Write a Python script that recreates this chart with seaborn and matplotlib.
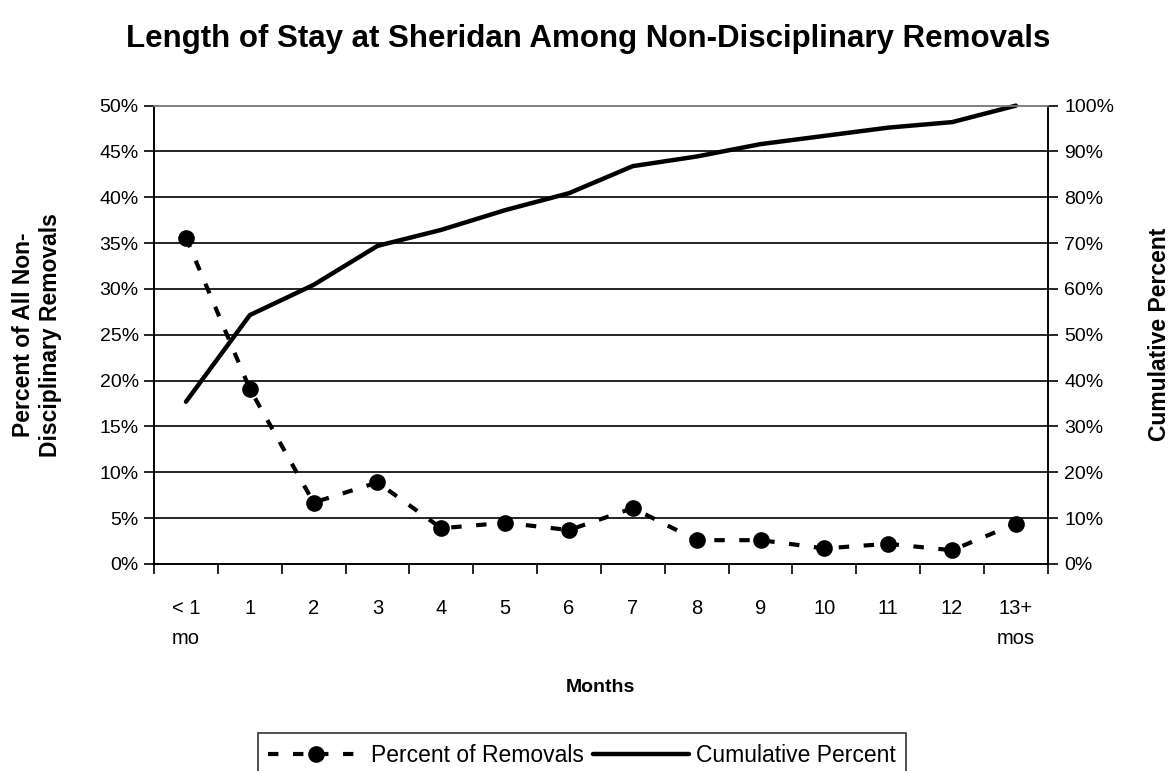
import matplotlib
matplotlib.use("Agg")
import matplotlib.pyplot as plt
import seaborn as sns
import pandas as pd
from matplotlib.ticker import PercentFormatter, FixedLocator

months = ["< 1\nmo", "1", "2", "3", "4", "5", "6", "7", "8", "9", "10", "11", "12", "13+\nmos"]
pct_removals = [35.6, 19.1, 6.7, 8.9, 3.9, 4.5, 3.7, 6.1, 2.6, 2.6, 1.7, 2.2, 1.5, 4.4]
cumulative = [35.4, 54.3, 60.9, 69.4, 72.9, 77.2, 80.9, 86.8, 88.9, 91.6, 93.4, 95.2, 96.4, 100.0]

df = pd.DataFrame({"pos": range(len(months)), "Percent of Removals": pct_removals,
                   "Cumulative Percent": cumulative})

sns.set_style("white")
plt.rcParams['font.family'] = ['Liberation Sans', 'DejaVu Sans']
for k in ['text.color', 'axes.labelcolor', 'xtick.color', 'ytick.color']:
    plt.rcParams[k] = 'black'

fig = plt.figure(figsize=(11.76, 7.71), dpi=100)
ax = fig.add_axes([0.131, 0.2685, 0.760, 0.5945])
ax2 = ax.twinx()

# gridlines
for v in range(5, 50, 5):
    ax.axhline(v, color='black', lw=1.2, zorder=0)

sns.lineplot(data=df, x="pos", y="Percent of Removals", ax=ax, color='black', lw=3,
             linestyle=(0, (2.5, 3.5)), marker='o', markersize=12, markeredgewidth=0,
             dash_capstyle='butt', label="Percent of Removals", legend=False, clip_on=False)
sns.lineplot(data=df, x="pos", y="Cumulative Percent", ax=ax2, color='black', lw=3.2,
             label="Cumulative Percent", legend=False, clip_on=False)

ax.set_xlim(-0.5, 13.5)
ax.set_ylim(0, 50)
ax2.set_ylim(0, 100)
ax.set_yticks(range(0, 51, 5))
ax2.set_yticks(range(0, 101, 10))
ax.yaxis.set_major_formatter(PercentFormatter(decimals=0))
ax2.yaxis.set_major_formatter(PercentFormatter(decimals=0))

ax.set_xticks(range(len(months)))
ax.set_xticklabels(months, linespacing=1.75, va='top')
ax.xaxis.set_minor_locator(FixedLocator([i - 0.5 for i in range(len(months) + 1)]))
ax.tick_params(axis='x', which='major', length=0, pad=25, labelsize=14.5)
ax.tick_params(axis='x', which='minor', length=7, width=1.2, color='black', direction='out', bottom=True)
ax.tick_params(axis='y', length=7, width=1.2, color='black', direction='out', left=True, labelsize=14, pad=4)
ax2.tick_params(axis='y', length=7, width=1.2, color='black', direction='out', right=True, labelsize=14, pad=5)

for a in (ax, ax2):
    for s in ['left', 'bottom', 'right']:
        a.spines[s].set_color('black')
        a.spines[s].set_linewidth(1.2)
    a.spines['top'].set_color('#808080')
    a.spines['top'].set_linewidth(1.2)

ax.set_xlabel("Months", fontsize=14, fontweight='bold', labelpad=22)
ax.set_ylabel("Percent of All Non-\nDisciplinary Removals", fontsize=16.5, fontweight='bold', labelpad=27)
ax2.set_ylabel("Cumulative Percent", fontsize=16.5, fontweight='bold', labelpad=24)
fig.suptitle("Length of Stay at Sheridan Among Non-Disciplinary Removals", x=0.5, y=0.95,
             va='center', fontsize=22.5, fontweight='bold')

h1, l1 = ax.get_legend_handles_labels()
h2, l2 = ax2.get_legend_handles_labels()
leg = fig.legend(h1 + h2, l1 + l2, loc='upper left', bbox_to_anchor=(0.219, 0.049), ncol=2,
                 fontsize=16.5, frameon=True, fancybox=False, edgecolor='black', handlelength=4.2,
                 columnspacing=0.4, handletextpad=0.3, borderpad=0.45, borderaxespad=0)
leg.get_frame().set_linewidth(1.2)

fig.savefig("out.png", dpi=100)
